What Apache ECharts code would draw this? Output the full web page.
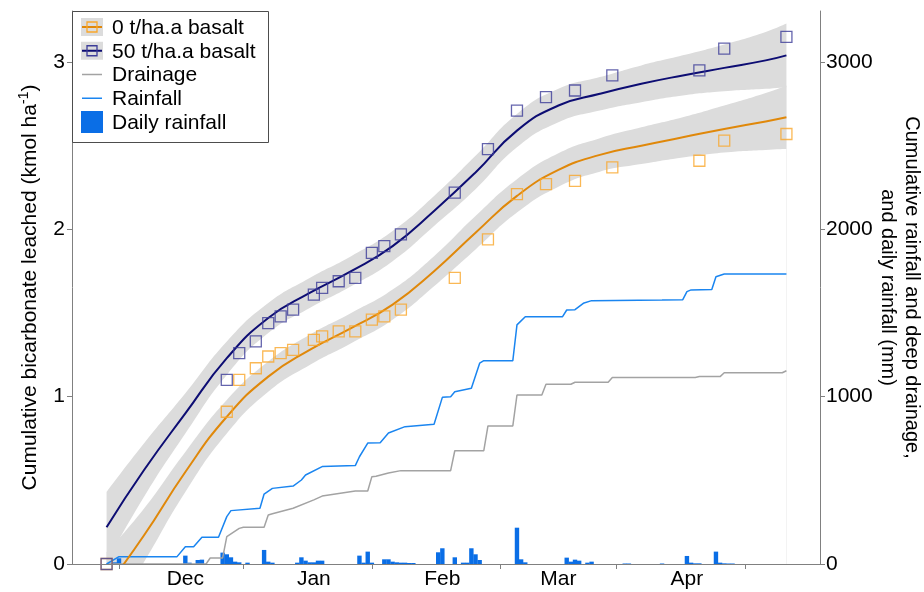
<!DOCTYPE html>
<html>
<head>
<meta charset="utf-8">
<script src="https://cdn.jsdelivr.net/npm/echarts@6/dist/echarts.min.js"></script>
<style>
  html, body { margin: 0; background: #fff; }
  #main { width: 924px; height: 592px; }
</style>
</head>
<body>
<div id="main"></div>
<script>
// x values are days counted from 1 November (day 0)
const sampleDays = [11, 40, 43, 47, 50, 53, 56, 61, 63, 67, 71, 75, 78, 82, 95, 103, 110, 117, 124, 133, 154, 160, 175];
const leach0 = [0, 0.91, 1.10, 1.17, 1.24, 1.26, 1.28, 1.34, 1.36, 1.39, 1.39, 1.46, 1.48, 1.52, 1.71, 1.94, 2.21, 2.27, 2.29, 2.37, 2.41, 2.53, 2.57];
const leach50 = [0, 1.10, 1.26, 1.33, 1.44, 1.48, 1.52, 1.61, 1.65, 1.69, 1.71, 1.86, 1.90, 1.97, 2.22, 2.48, 2.71, 2.79, 2.83, 2.92, 2.95, 3.08, 3.15];

// fitted curves and half width of the grey confidence band
const fitDays = [11, 20, 30, 40, 50, 60, 70, 80, 90, 100, 110, 120, 130, 140, 150, 160, 170, 175];
const fit0 = [-0.14, 0.17, 0.55, 0.88, 1.12, 1.28, 1.41, 1.55, 1.75, 1.98, 2.20, 2.355, 2.445, 2.50, 2.55, 2.60, 2.645, 2.67];
const fit50 = [0.22, 0.56, 0.90, 1.23, 1.47, 1.62, 1.75, 1.90, 2.11, 2.34, 2.59, 2.74, 2.81, 2.87, 2.92, 2.965, 3.01, 3.04];
const bandHalf = [0.21, 0.16, 0.12, 0.10, 0.09, 0.09, 0.09, 0.09, 0.09, 0.10, 0.10, 0.10, 0.10, 0.11, 0.12, 0.14, 0.17, 0.19];

// cumulative rainfall (mm)
const rainDays = [11, 14, 28, 30, 32, 34, 38, 40, 41, 48, 49, 51, 56, 58, 59, 63, 71, 72, 74, 77, 79, 83, 90, 92, 94, 95, 99, 101, 102, 109, 110, 112, 121, 122, 124, 126, 128, 145, 150, 151, 152, 157, 158, 160, 175];
const rainCum = [0, 44, 44, 103, 103, 160, 160, 283, 319, 333, 418, 452, 466, 502, 532, 582, 588, 641, 723, 725, 783, 821, 835, 996, 1000, 1030, 1050, 1200, 1215, 1215, 1429, 1478, 1478, 1518, 1520, 1558, 1574, 1578, 1580, 1628, 1638, 1640, 1717, 1733, 1733];

// cumulative deep drainage (mm)
const drainDays = [11, 35, 36, 39, 40, 43, 44, 49, 50, 51, 56, 61, 63, 71, 74, 75, 76, 79, 82, 94, 95, 102, 103, 109, 110, 116, 117, 123, 124, 132, 133, 153, 154, 159, 160, 174, 175];
const drainCum = [0, 0, 36, 36, 163, 213, 220, 220, 293, 300, 333, 383, 406, 436, 436, 522, 525, 544, 558, 558, 677, 677, 825, 825, 1010, 1010, 1074, 1074, 1086, 1086, 1114, 1114, 1120, 1120, 1143, 1143, 1155];

// daily rainfall (mm)
const dailyDays = [13, 14, 30, 31, 33, 34, 39, 40, 41, 42, 43, 45, 49, 50, 51, 57, 58, 59, 60, 61, 62, 63, 72, 73, 74, 75, 78, 79, 80, 81, 82, 83, 84, 85, 91, 92, 95, 97, 98, 99, 100, 101, 110, 111, 112, 122, 123, 124, 125, 127, 128, 136, 137, 145, 151, 152, 153, 154, 158, 159, 160, 161, 162];
const dailyRain = [10, 34, 50, 8, 24, 26, 68, 58, 40, 14, 10, 8, 84, 14, 8, 8, 40, 20, 10, 10, 20, 20, 50, 8, 74, 8, 28, 28, 14, 10, 8, 8, 6, 6, 70, 94, 40, 8, 8, 94, 58, 24, 217, 28, 10, 38, 14, 26, 20, 8, 14, 3, 3, 3, 48, 8, 4, 4, 74, 8, 4, 3, 3];

const monthNames = ['Dec', 'Jan', 'Feb', 'Mar', 'Apr'];
const monthStarts = [30, 61, 92, 120, 151];
const tickDays = [14, 44, 75, 106, 134, 165];
const leftTicks = [0, 1, 2, 3];
const rightTicks = [0, 1000, 2000, 3000];
const legendNames = ['0 t/ha.a basalt', '50 t/ha.a basalt', 'Drainage', 'Rainfall', 'Daily rainfall'];

const FONT = 'Liberation Sans, Arial, sans-serif';
const FS = 21;
const AXIS = '#808080';
const C = {
  fit0: '#e0880a', mark0: '#f9a62a',
  fit50: '#0d0d73', mark50: '#3d3d99',
  band: '#dcdcdc', drain: '#a3a3a3',
  rain: '#1a85f0', daily: '#0a6ee6'
};

const pairs = (xs, ys) => xs.map((x, i) => [x, ys[i]]);

// confidence band: grey area under the upper edge, then white area under the lower edge
function bandSeries(fit) {
  const edge = (sign, color) => ({
    type: 'line', smooth: true, symbol: 'none', silent: true, z: 1,
    lineStyle: { opacity: 0 },
    areaStyle: { color: color, opacity: 1, origin: 'start' },
    data: fitDays.map((d, i) => [d, fit[i] + sign * bandHalf[i]])
  });
  return [edge(1, C.band), edge(-1, '#fff')];
}

const myChart = echarts.init(document.getElementById('main'), null, { renderer: 'canvas' });

// hand drawn legend, matching the boxed key of the original
const legendChildren = [{
  type: 'rect', z: 100, shape: { x: 72.5, y: 11.5, width: 196, height: 131 },
  style: { fill: '#fff', stroke: '#4d4d4d', lineWidth: 1 }
}];
legendNames.forEach((name, i) => {
  const cy = 27 + i * 23.75;
  if (i < 2) {
    const lc = i === 0 ? C.fit0 : C.fit50;
    const mc = i === 0 ? C.mark0 : C.mark50;
    legendChildren.push(
      { type: 'rect', z: 101, shape: { x: 81, y: cy - 9, width: 22, height: 18 }, style: { fill: C.band } },
      { type: 'line', z: 102, shape: { x1: 82, y1: cy, x2: 102, y2: cy }, style: { stroke: lc, lineWidth: 2 } },
      { type: 'rect', z: 103, shape: { x: 87, y: cy - 5, width: 10, height: 10 }, style: { fill: 'none', stroke: mc, lineWidth: 1.3 } }
    );
  } else if (i < 4) {
    legendChildren.push({
      type: 'line', z: 101, shape: { x1: 82, y1: cy, x2: 102, y2: cy },
      style: { stroke: i === 2 ? C.drain : C.rain, lineWidth: 1.5 }
    });
  } else {
    legendChildren.push({ type: 'rect', z: 101, shape: { x: 81, y: cy - 11, width: 22, height: 22 }, style: { fill: C.daily } });
  }
  legendChildren.push({
    type: 'text', z: 101, x: 112, y: cy + 1,
    style: { text: name, font: FS + 'px ' + FONT, fill: '#000', verticalAlign: 'middle' }
  });
});

const option = {
  animation: false,
  grid: { left: 72, right: 104, top: 11, bottom: 28, outerBoundsMode: 'none' },
  xAxis: [
    {
      type: 'value', min: 2.66, max: 183.1, z: 10,
      axisLine: { lineStyle: { color: AXIS } },
      splitLine: { show: false },
      axisTick: { length: 5, lineStyle: { color: AXIS }, customValues: tickDays },
      axisLabel: {
        customValues: monthStarts, color: '#000', fontSize: FS, fontFamily: FONT, margin: 5,
        formatter: v => monthNames[monthStarts.indexOf(v)] || ''
      }
    },
    {
      type: 'value', position: 'top', min: 2.66, max: 183.1, z: 10,
      axisLine: { show: true, lineStyle: { color: AXIS } },
      axisTick: { show: false }, axisLabel: { show: false }, splitLine: { show: false }
    }
  ],
  yAxis: [
    {
      type: 'value', min: 0, max: 3.305, z: 10,
      axisLine: { show: true, lineStyle: { color: AXIS } },
      splitLine: { show: false },
      axisTick: { show: true, length: 5, lineStyle: { color: AXIS }, customValues: leftTicks },
      axisLabel: { customValues: leftTicks, color: '#000', fontSize: FS, fontFamily: FONT, margin: 7 },
      name: '{t|Cumulative bicarbonate leached (kmol ha}{s|-1}{t|)}',
      nameLocation: 'middle', nameGap: 29, nameRotate: 90, nameMoveOverlap: false,
      nameTextStyle: {
        rich: {
          t: { fontSize: FS, fontFamily: FONT, color: '#000', lineHeight: 26 },
          s: { fontSize: 14, fontFamily: FONT, color: '#000', lineHeight: 26, verticalAlign: 'top' }
        }
      }
    },
    {
      type: 'value', min: 0, max: 3305, position: 'right', z: 10,
      axisLine: { show: true, lineStyle: { color: AXIS } },
      splitLine: { show: false },
      axisTick: { show: true, length: 5, lineStyle: { color: AXIS }, customValues: rightTicks },
      axisLabel: { customValues: rightTicks, color: '#000', fontSize: FS, fontFamily: FONT, margin: 6, formatter: v => String(v) },
      name: 'Cumulative rainfall and deep drainage,\nand daily rainfall (mm)',
      nameLocation: 'middle', nameGap: 56, nameRotate: -90, nameMoveOverlap: false,
      nameTextStyle: { fontSize: 20, fontFamily: FONT, color: '#000', lineHeight: 24 }
    }
  ],
  series: [
    ...bandSeries(fit50),
    ...bandSeries(fit0),
    {
      name: 'Daily rainfall', type: 'bar', yAxisIndex: 1, barWidth: 4.4, z: 2,
      itemStyle: { color: C.daily }, data: pairs(dailyDays, dailyRain)
    },
    {
      name: 'Drainage', type: 'line', yAxisIndex: 1, symbol: 'none', z: 3,
      lineStyle: { color: C.drain, width: 1.5 }, data: pairs(drainDays, drainCum)
    },
    {
      name: 'Rainfall', type: 'line', yAxisIndex: 1, symbol: 'none', z: 3,
      lineStyle: { color: C.rain, width: 1.5 }, data: pairs(rainDays, rainCum)
    },
    {
      type: 'line', smooth: true, symbol: 'none', z: 4,
      lineStyle: { color: C.fit0, width: 2 }, data: pairs(fitDays, fit0)
    },
    {
      type: 'line', smooth: true, symbol: 'none', z: 4,
      lineStyle: { color: C.fit50, width: 2 }, data: pairs(fitDays, fit50)
    },
    {
      name: '0 t/ha.a basalt', type: 'scatter', symbol: 'rect', symbolSize: 11, z: 5,
      itemStyle: { color: 'rgba(0,0,0,0)', borderColor: C.mark0, borderWidth: 1.3 },
      data: pairs(sampleDays, leach0)
    },
    {
      name: '50 t/ha.a basalt', type: 'scatter', symbol: 'rect', symbolSize: 11, z: 5,
      itemStyle: { color: 'rgba(0,0,0,0)', borderColor: C.mark50, borderWidth: 1.3 },
      data: pairs(sampleDays, leach50)
    }
  ],
  graphic: [{ type: 'group', children: legendChildren }]
};

myChart.setOption(option);
</script>
</body>
</html>
